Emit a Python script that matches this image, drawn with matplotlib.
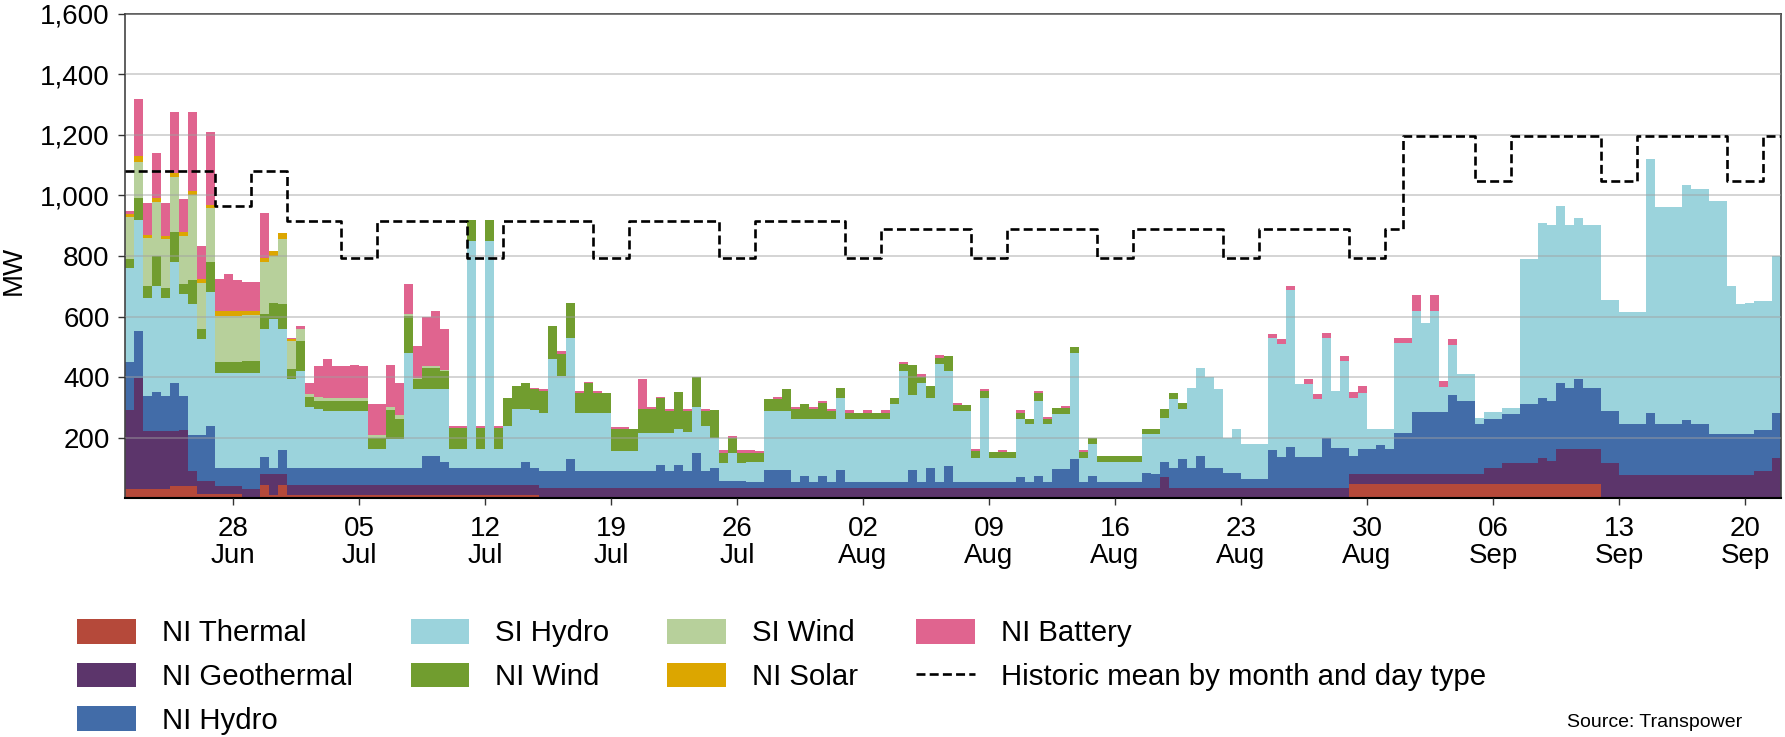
import numpy as np
import pandas as pd
import matplotlib
matplotlib.use("Agg")
import matplotlib.pyplot as plt
import matplotlib.dates as mdates
from matplotlib.ticker import FuncFormatter

plt.rcParams['font.family'] = ['Liberation Sans', 'DejaVu Sans']

# half-day steps from 22 Jun 2020 to 22 Sep 2020 (MW)
start = '2020-06-22'
end = '2020-09-22'

ni_thermal = [
    32, 32, 32, 32, 32, 40, 40, 40, 13, 13, 13, 13, 13, 0, 0, 45, 10, 45, 10, 10,
    10, 10, 10, 10, 10, 10, 10, 10, 10, 10, 10, 10, 10, 10, 10, 10, 10, 10, 10, 10,
    10, 10, 10, 10, 10, 10, 0, 0, 0, 0, 0, 0, 0, 0, 0, 0, 0, 0, 0, 0,
    0, 0, 0, 0, 0, 0, 0, 0, 0, 0, 0, 0, 0, 0, 0, 0, 0, 0, 0, 0,
    0, 0, 0, 0, 0, 0, 0, 0, 0, 0, 0, 0, 0, 0, 0, 0, 0, 0, 0, 0,
    0, 0, 0, 0, 0, 0, 0, 0, 0, 0, 0, 0, 0, 0, 0, 0, 0, 0, 0, 0,
    0, 0, 0, 0, 0, 0, 0, 0, 0, 0, 0, 0, 0, 0, 0, 0, 46, 46, 46, 46,
    46, 46, 46, 46, 46, 46, 46, 46, 46, 46, 46, 46, 46, 46, 46, 46, 46, 46, 46, 46,
    46, 46, 46, 46, 0, 0, 0, 0, 0, 0, 0, 0, 0, 0, 0, 0, 0, 0, 0, 0,
    0, 0, 0, 0]

ni_geothermal = [
    258, 366, 190, 190, 190, 182, 185, 50, 44, 44, 27, 27, 27, 30, 30, 35, 70, 35, 33, 33,
    33, 33, 33, 33, 33, 33, 33, 33, 33, 33, 33, 33, 33, 33, 33, 33, 33, 33, 33, 33,
    33, 33, 33, 33, 33, 33, 35, 35, 35, 35, 35, 35, 35, 35, 35, 35, 35, 35, 35, 35,
    35, 35, 35, 35, 35, 35, 35, 35, 35, 35, 35, 35, 35, 35, 35, 35, 35, 35, 35, 35,
    35, 35, 35, 35, 35, 35, 35, 35, 35, 35, 35, 35, 35, 35, 35, 35, 35, 35, 35, 35,
    35, 35, 35, 35, 35, 35, 35, 35, 35, 35, 35, 35, 35, 35, 33, 70, 33, 33, 33, 33,
    33, 33, 33, 33, 33, 33, 33, 33, 33, 33, 33, 33, 33, 33, 33, 33, 34, 34, 34, 34,
    34, 34, 34, 34, 34, 34, 34, 34, 34, 34, 34, 55, 55, 69, 69, 69, 69, 88, 77, 118,
    118, 118, 118, 118, 118, 118, 77, 77, 77, 77, 77, 77, 77, 77, 77, 77, 77, 77, 77, 77,
    77, 90, 90, 134]

ni_hydro = [
    160, 154, 116, 128, 116, 158, 113, 120, 153, 183, 61, 61, 61, 71, 71, 56, 21, 78, 58, 58,
    58, 58, 58, 58, 58, 58, 58, 58, 58, 58, 58, 58, 58, 97, 97, 77, 58, 58, 58, 58,
    58, 58, 58, 58, 77, 58, 55, 55, 55, 94, 55, 55, 55, 55, 55, 55, 55, 55, 55, 75,
    55, 75, 55, 115, 55, 65, 22, 22, 22, 20, 20, 58, 58, 58, 20, 40, 20, 40, 20, 58,
    20, 20, 20, 20, 20, 20, 20, 58, 20, 65, 20, 72, 20, 20, 20, 20, 20, 20, 20, 35,
    20, 40, 20, 61, 61, 95, 20, 40, 20, 20, 20, 20, 20, 48, 46, 50, 68, 98, 68, 107,
    68, 68, 50, 50, 30, 30, 30, 125, 103, 137, 103, 103, 103, 167, 134, 134, 60, 82, 82, 95,
    82, 137, 137, 205, 205, 205, 205, 260, 241, 241, 166, 162, 162, 162, 162, 198, 198, 198, 198, 218,
    201, 229, 201, 201, 170, 170, 169, 169, 169, 206, 169, 169, 169, 183, 169, 169, 134, 134, 134, 134,
    134, 136, 136, 146]

si_hydro = [
    310, 368, 324, 350, 324, 400, 338, 430, 315, 440, 314, 314, 314, 314, 314, 424, 490, 402, 292, 319,
    199, 193, 187, 187, 187, 187, 187, 63, 63, 94, 94, 380, 259, 220, 220, 240, 61, 61, 748, 61,
    748, 61, 139, 193, 174, 189, 193, 370, 314, 401, 191, 191, 191, 191, 66, 66, 66, 127, 127, 107,
    127, 120, 130, 150, 149, 100, 61, 93, 61, 65, 65, 195, 195, 195, 206, 186, 206, 186, 206, 239,
    206, 206, 206, 206, 206, 255, 365, 247, 325, 230, 387, 313, 233, 233, 79, 277, 79, 79, 79, 191,
    189, 246, 189, 181, 181, 351, 79, 103, 65, 65, 65, 65, 65, 128, 132, 146, 226, 163, 264, 291,
    300, 259, 117, 147, 115, 115, 115, 372, 372, 518, 240, 240, 191, 330, 187, 286, 190, 187, 66, 53,
    66, 297, 297, 335, 295, 335, 82, 165, 88, 88, 20, 22, 22, 22, 22, 476, 476, 578, 580, 583,
    536, 533, 536, 536, 367, 367, 369, 369, 369, 837, 717, 717, 717, 776, 774, 774, 770, 770, 489, 429,
    434, 425, 425, 520]

ni_wind = [
    30, 70, 38, 100, 33, 100, 30, 80, 33, 100, 35, 35, 35, 40, 40, 50, 54, 80, 33, 100,
    35, 27, 33, 33, 33, 33, 33, 36, 36, 95, 66, 121, 33, 71, 71, 60, 71, 71, 71, 71,
    71, 71, 90, 76, 86, 70, 71, 110, 71, 116, 68, 99, 68, 68, 72, 72, 72, 77, 77, 113,
    71, 120, 68, 100, 49, 90, 33, 50, 33, 31, 31, 39, 39, 72, 33, 49, 33, 54, 27, 33,
    22, 22, 22, 22, 22, 22, 22, 100, 20, 40, 22, 50, 19, 19, 22, 22, 19, 19, 19, 22,
    17, 28, 17, 20, 20, 18, 19, 22, 20, 20, 20, 20, 20, 19, 19, 30, 20, 20, 0, 0,
    0, 0, 0, 0, 0, 0, 0, 0, 0, 0, 0, 0, 0, 0, 0, 0, 0, 0, 0, 0,
    0, 0, 0, 0, 0, 0, 0, 0, 0, 0, 0, 0, 0, 0, 0, 0, 0, 0, 0, 0,
    0, 0, 0, 0, 0, 0, 0, 0, 0, 0, 0, 0, 0, 0, 0, 0, 0, 0, 0, 0,
    0, 0, 0, 0]

si_wind = [
    140, 120, 160, 180, 160, 180, 160, 280, 154, 180, 152, 152, 152, 150, 150, 170, 155, 215, 94, 40,
    10, 14, 11, 11, 11, 11, 11, 8, 8, 10, 13, 5, 5, 5, 5, 3, 0, 0, 0, 0,
    0, 0, 0, 0, 0, 0, 0, 0, 0, 0, 0, 0, 0, 0, 0, 0, 0, 0, 0, 0,
    0, 0, 0, 0, 0, 0, 0, 0, 0, 0, 0, 0, 0, 0, 0, 0, 0, 0, 0, 0,
    0, 0, 0, 0, 0, 0, 0, 0, 0, 0, 0, 0, 0, 0, 0, 0, 0, 0, 0, 0,
    0, 0, 0, 0, 0, 0, 0, 0, 0, 0, 0, 0, 0, 0, 0, 0, 0, 0, 0, 0,
    0, 0, 0, 0, 0, 0, 0, 0, 0, 0, 0, 0, 0, 0, 0, 0, 0, 0, 0, 0,
    0, 0, 0, 0, 0, 0, 0, 0, 0, 0, 0, 0, 0, 0, 0, 0, 0, 0, 0, 0,
    0, 0, 0, 0, 0, 0, 0, 0, 0, 0, 0, 0, 0, 0, 0, 0, 0, 0, 0, 0,
    0, 0, 0, 0]

ni_solar = [
    10, 20, 10, 10, 11, 15, 13, 15, 11, 10, 16, 16, 16, 15, 15, 12, 16, 20, 5, 0,
    0, 0, 0, 0, 0, 0, 0, 0, 0, 0, 0, 0, 0, 0, 0, 0, 0, 0, 0, 0,
    0, 0, 0, 0, 0, 0, 0, 0, 0, 0, 0, 0, 0, 0, 0, 0, 0, 0, 0, 0,
    0, 0, 0, 0, 0, 0, 0, 0, 0, 0, 0, 0, 0, 0, 0, 0, 0, 0, 0, 0,
    0, 0, 0, 0, 0, 0, 0, 0, 0, 0, 0, 0, 0, 0, 0, 0, 0, 0, 0, 0,
    0, 0, 0, 0, 0, 0, 0, 0, 0, 0, 0, 0, 0, 0, 0, 0, 0, 0, 0, 0,
    0, 0, 0, 0, 0, 0, 0, 0, 0, 0, 0, 0, 0, 0, 0, 0, 0, 0, 0, 0,
    0, 0, 0, 0, 0, 0, 0, 0, 0, 0, 0, 0, 0, 0, 0, 0, 0, 0, 0, 0,
    0, 0, 0, 0, 0, 0, 0, 0, 0, 0, 0, 0, 0, 0, 0, 0, 0, 0, 0, 0,
    0, 0, 0, 0]

ni_battery = [
    10, 190, 105, 150, 110, 200, 108, 260, 110, 240, 105, 122, 104, 95, 95, 150, 0, 0, 5, 10,
    35, 102, 128, 105, 105, 108, 105, 102, 102, 140, 108, 99, 105, 164, 184, 137, 7, 5, 0, 7,
    0, 7, 0, 0, 0, 5, 6, 0, 10, 0, 6, 5, 6, 0, 7, 7, 0, 100, 6, 5,
    7, 0, 7, 0, 7, 0, 9, 5, 9, 9, 4, 0, 8, 0, 6, 0, 6, 5, 7, 0,
    7, 0, 9, 0, 9, 0, 8, 0, 10, 0, 8, 0, 8, 0, 6, 6, 0, 7, 0, 7,
    0, 6, 7, 0, 8, 0, 7, 0, 0, 0, 0, 0, 0, 0, 0, 0, 0, 0, 0, 0,
    0, 0, 0, 0, 0, 0, 0, 11, 17, 12, 0, 19, 16, 17, 0, 17, 20, 22, 0, 0,
    0, 16, 16, 50, 0, 50, 20, 20, 0, 0, 0, 0, 0, 0, 0, 0, 0, 0, 0, 0,
    0, 0, 0, 0, 0, 0, 0, 0, 0, 0, 0, 0, 0, 0, 0, 0, 0, 0, 0, 0,
    0, 0, 0, 0]

# historic mean by month and day type
hist_months = [6, 7, 8, 9]
hist_weekday = [1080, 917, 890, 1196]
hist_weekend = [965, 792, 792, 1047]

labels = ['NI Thermal', 'NI Geothermal', 'NI Hydro', 'SI Hydro',
          'NI Wind', 'SI Wind', 'NI Solar', 'NI Battery']
colors = ['#b5493a', '#5c356b', '#426ca8', '#9bd3dc',
          '#719d2f', '#b7d09b', '#dca600', '#e0648f']
series = [ni_thermal, ni_geothermal, ni_hydro, si_hydro,
          ni_wind, si_wind, ni_solar, ni_battery]

t = pd.date_range(start, end, freq='12h')
for s in series:
    assert len(s) == len(t) - 1, len(s)
vals = [np.append(s, s[-1]) for s in series]

days = pd.date_range(start, end, freq='D')
hist = []
for d in days:
    k = hist_months.index(d.month)
    hist.append(hist_weekend[k] if d.weekday() >= 5 else hist_weekday[k])

fig = plt.figure(figsize=(17.85, 7.37), dpi=100)
ax = fig.add_axes([0.0700, 0.3239, 0.9278, 0.6574])

polys = ax.stackplot(t, vals, colors=colors, labels=labels, step='post', linewidth=0)
hline, = ax.plot(days, hist, color='black', lw=1.9, ls=(0, (3.4, 1.6)),
                 drawstyle='steps-post', zorder=3,
                 label='Historic mean by month and day type')

ax.set_xlim(pd.Timestamp(start), pd.Timestamp(end))
ax.set_ylim(0, 1600)
ax.set_yticks(range(200, 1601, 200))
ax.yaxis.set_major_formatter(FuncFormatter(lambda v, p: f'{v:,.0f}'))
ax.xaxis.set_major_locator(mdates.WeekdayLocator(byweekday=mdates.SU))
ax.xaxis.set_major_formatter(mdates.DateFormatter('%d\n%b'))
ax.tick_params(axis='both', labelsize=20, length=5, width=1, colors='#333333', labelcolor='black')
ax.tick_params(axis='y', pad=6)
ax.tick_params(axis='x', pad=8)
for lab in ax.get_xticklabels():
    lab.set_linespacing(1.05)

ax.set_axisbelow(False)
ax.yaxis.grid(True, color='#a0a0a0', lw=1.4, alpha=0.45)
for side in ['top', 'right', 'left']:
    ax.spines[side].set_color('#444444')
    ax.spines[side].set_linewidth(1.2)
ax.spines['bottom'].set_color('black')
ax.spines['bottom'].set_linewidth(1.5)

fig.text(14 / 1785, 1 - 270 / 737, 'MW', rotation=90, va='center', ha='center', fontsize=20)

handles = list(polys) + [hline]
fig.legend(handles, labels + ['Historic mean by month and day type'],
           ncol=4, loc='upper left', bbox_to_anchor=(0.043, 0.160),
           frameon=False, fontsize=21.2, handlelength=2.0, handleheight=0.9,
           handletextpad=0.88, columnspacing=1.97, labelspacing=0.52,
           borderpad=0, borderaxespad=0)

fig.text(0.976, 0.019, 'Source: Transpower', ha='right', va='center', fontsize=14)

fig.savefig('out.png', dpi=100)
